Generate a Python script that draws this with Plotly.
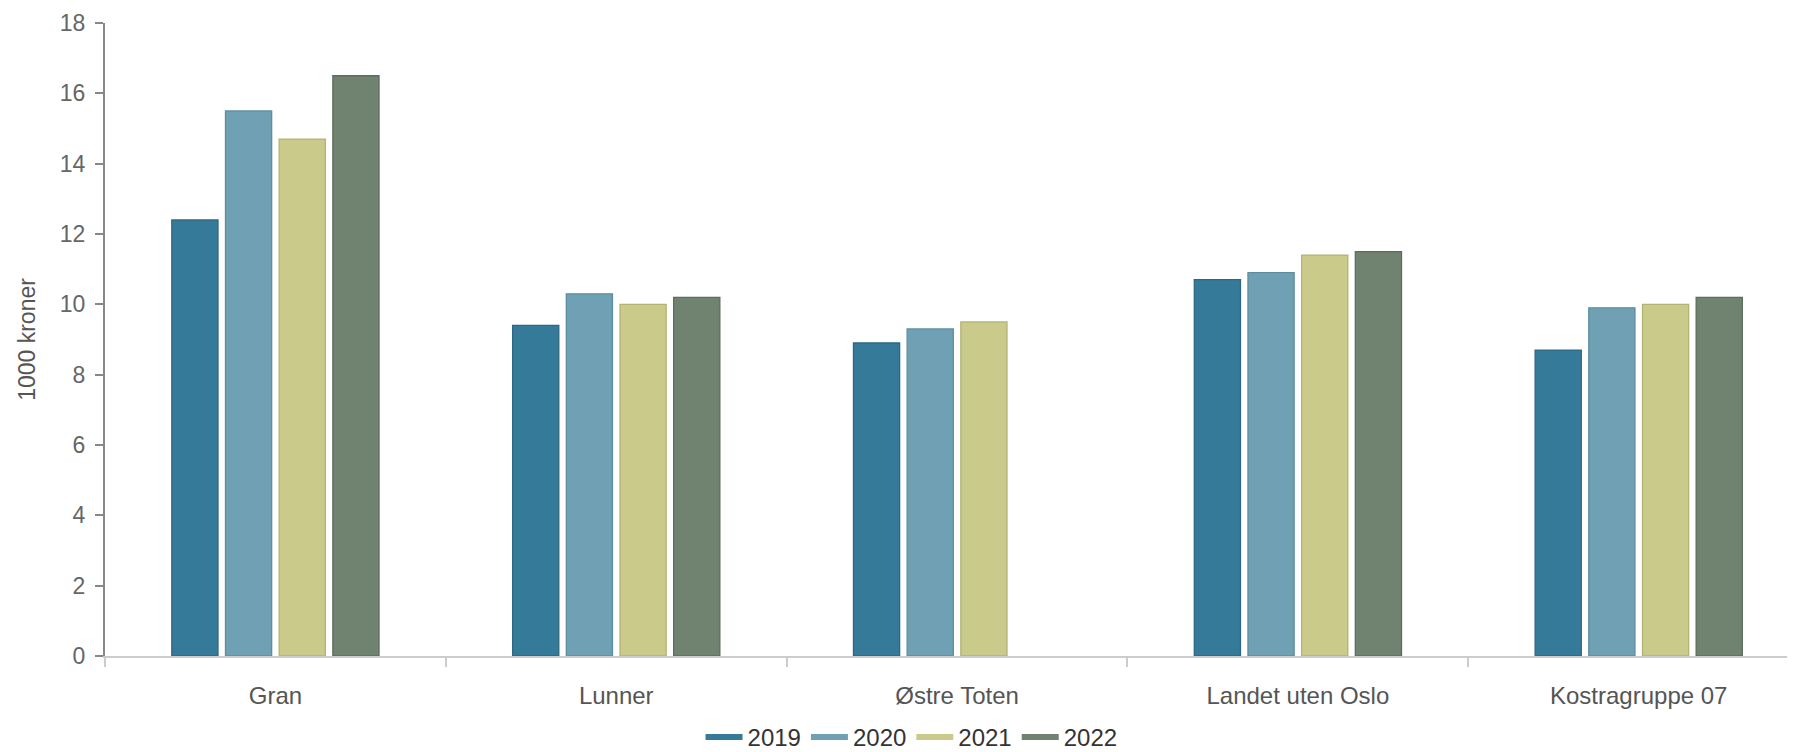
import plotly.graph_objects as go

categories = ["Gran", "Lunner", "Østre Toten", "Landet uten Oslo", "Kostragruppe 07"]
years = ["2019", "2020", "2021", "2022"]
values_2019 = [12.4, 9.4, 8.9, 10.7, 8.7]
values_2020 = [15.5, 10.3, 9.3, 10.9, 9.9]
values_2021 = [14.7, 10.0, 9.5, 11.4, 10.0]
values_2022 = [16.5, 10.2, None, 11.5, 10.2]
series = [values_2019, values_2020, values_2021, values_2022]
y_ticks = [0, 2, 4, 6, 8, 10, 12, 14, 16, 18]
y_title = "1000 kroner"

fills = ["#367a99", "#6fa0b3", "#caca8b", "#708270"]
borders = ["#2c6884", "#5b8ea2", "#b2b474", "#5d6d5d"]

fig = go.Figure()
for yr, vals, fc, bc in zip(years, series, fills, borders):
    fig.add_trace(go.Bar(
        x=categories, y=vals, name=yr, legendgroup=yr, showlegend=False,
        marker=dict(color=fc, line=dict(color=bc, width=1.3)),
        hoverinfo="x+y+name",
    ))
for yr, fc in zip(years, fills):
    fig.add_trace(go.Scatter(
        x=[None], y=[None], mode="lines", name=yr, legendgroup=yr,
        line=dict(color=fc, width=6),
    ))

fig.update_layout(
    width=1795, height=752,
    margin=dict(l=97, r=0, t=15, b=104),
    paper_bgcolor="white", plot_bgcolor="white",
    barmode="group", bargap=0.37, bargroupgap=0.14,
    font=dict(family="Liberation Sans, Arial, sans-serif", size=23, color="#666666"),
    showlegend=True,
    legend=dict(
        orientation="h", x=0.475, xanchor="center", y=-0.164, yanchor="bottom",
        font=dict(size=24, color="#333333"), itemwidth=37, traceorder="normal",
    ),
)
fig.update_xaxes(
    type="category", range=[-0.5, 4.482], automargin=False,
    showline=True, linecolor="#cccccc", linewidth=1.5,
    ticks="outside", ticklen=9, tickcolor="#cccccc", tickwidth=1.5,
    tickson="boundaries", showgrid=False, zeroline=False,
    ticklabelstandoff=17,
    tickfont=dict(size=24, color="#555555"),
)
fig.update_yaxes(
    range=[0, 18], tickvals=y_ticks, ticktext=[str(v) for v in y_ticks],
    automargin=False,
    showline=True, linecolor="#888888", linewidth=2,
    ticks="outside", ticklen=8, tickcolor="#888888", tickwidth=1.5,
    ticklabelstandoff=5,
    showgrid=False, zeroline=False,
    tickfont=dict(size=23, color="#666666"),
    title=dict(text=y_title, font=dict(size=23, color="#555555"), standoff=18),
)

fig.write_html("out.html")
